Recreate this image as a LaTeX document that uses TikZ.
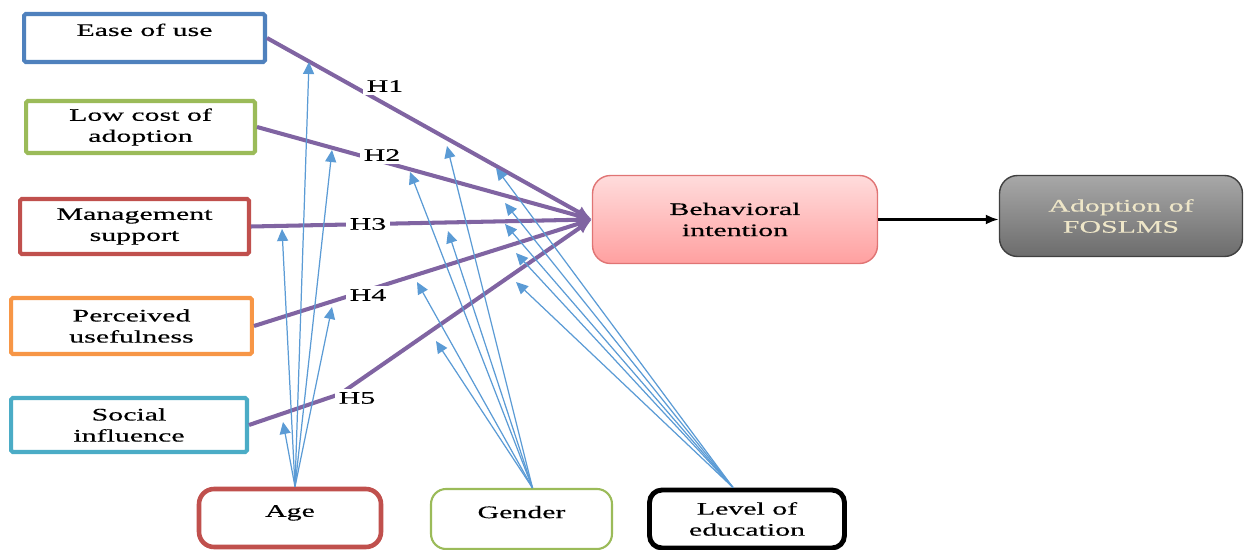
\documentclass[tikz,border=0pt]{standalone}
\usepackage{fontspec}
\setmainfont{Liberation Serif}[FakeStretch=1.7,FakeBold=0.4]
\usetikzlibrary{positioning}
\usetikzlibrary{arrows.meta}
\definecolor{cblue}{HTML}{4F81BD}
\definecolor{cgreen}{HTML}{9BBB59}
\definecolor{cred}{HTML}{C0504D}
\definecolor{corange}{HTML}{F79646}
\definecolor{cteal}{HTML}{4BACC6}
\definecolor{cpurple}{HTML}{8064A2}
\definecolor{carrow}{HTML}{5B9BD5}
\definecolor{pinkedge}{HTML}{E07474}
\definecolor{pinktop}{HTML}{FFDCDC}
\definecolor{pinkbot}{HTML}{FFA0A0}
\definecolor{greyedge}{HTML}{404040}
\definecolor{greytop}{HTML}{A8A8A8}
\definecolor{greybot}{HTML}{6C6C6C}
\definecolor{creamtext}{HTML}{EEE6C8}
\tikzset{
    factor/.style = {rectangle, line width=2.3pt, rounded corners=1pt, fill=white, align=center, font=\fontsize{10}{12}\selectfont},
    moderator/.style = {rectangle, rounded corners=0.3cm, fill=white, align=center, font=\fontsize{10}{12}\selectfont},
    outcome/.style = {rectangle, rounded corners=0.36cm, align=center, font=\fontsize{10}{12}\selectfont},
    hyp/.style = {fill=white, inner sep=2pt, font=\fontsize{10}{12}\selectfont},
    edgep/.style = {-{Latex[length=0.3cm,width=0.26cm]}, line width=2.3pt, cpurple},
    edgepn/.style = {line width=2.3pt, cpurple},
    edgeb/.style = {-{Triangle[length=0.24cm,width=0.22cm]}, line width=0.7pt, carrow},
    edgek/.style = {-{Latex[length=0.26cm,width=0.2cm]}, line width=1.7pt, black}
}
\begin{document}
\begin{tikzpicture}[x=0.02cm,y=-0.02cm]
\useasboundingbox (0,0) rectangle (1244,550);
%
\node[factor, draw=cblue, minimum width=4.82cm, minimum height=0.96cm, text depth=0.33cm] at (144.5,38) (ease) {Ease of use};
\node[factor, draw=cgreen, minimum width=4.58cm, minimum height=1.04cm] at (140.5,127) (cost) {Low cost of\\adoption};
\node[factor, draw=cred, minimum width=4.58cm, minimum height=1.10cm] at (134.5,226.5) (mgmt) {Management\\support};
\node[factor, draw=corange, minimum width=4.82cm, minimum height=1.12cm] at (131.5,326) (useful) {Perceived\\usefulness};
\node[factor, draw=cteal, minimum width=4.72cm, minimum height=1.08cm] at (129,425) (social) {Social\\influence};
%
\node[outcome, draw=pinkedge, line width=0.8pt, top color=pinktop, bottom color=pinkbot, minimum width=5.70cm, minimum height=1.76cm] at (735,219.5) (bi) {Behavioral\\intention};
\node[outcome, draw=greyedge, line width=0.8pt, top color=greytop, bottom color=greybot, text=creamtext, minimum width=4.86cm, minimum height=1.62cm] at (1121,216) (adopt) {Adoption of\\FOSLMS};
%
\node[moderator, draw=cred, line width=2.6pt, minimum width=3.64cm, minimum height=1.16cm, text depth=0.28cm] at (290,518) (age) {Age};
\node[moderator, draw=cgreen, line width=1.2pt, minimum width=3.62cm, minimum height=1.2cm, text depth=0.28cm] at (521.5,519) (gender) {Gender};
\node[moderator, draw=black, line width=2.8pt, rounded corners=0.25cm, minimum width=3.9cm, minimum height=1.16cm] at (747,519) (edu) {Level of\\education};
%
\coordinate (k5) at (340,394);
\coordinate (a1) at (309,62);
\coordinate (a2) at (332,150);
\coordinate (a3) at (282,229);
\coordinate (a4) at (332,307);
\coordinate (a5) at (283,422);
\coordinate (g1) at (447,146);
\coordinate (g2) at (410,172);
\coordinate (g3) at (448,231);
\coordinate (g4) at (417,282);
\coordinate (g5) at (436,341);
\coordinate (l1) at (496,168);
\coordinate (l2) at (505,203);
\coordinate (l3) at (505,224);
\coordinate (l4) at (516,253);
\coordinate (l5) at (516,282);
%
\draw[edgep] (ease.east) -- (bi.west);
\draw[edgep] (cost.east) -- (bi.west);
\draw[edgep] (mgmt.east) -- (bi.west);
\draw[edgep] (useful.east) -- (bi.west);
\draw[edgepn] (social.east) -- (k5);
\draw[edgep] (k5) -- (bi.west);
\draw[edgek] (bi.east) -- (bi.east -| adopt.west);
%
\draw[edgeb] ([xshift=0.1cm]age.north) -- (a1);
\draw[edgeb] ([xshift=0.1cm]age.north) -- (a2);
\draw[edgeb] ([xshift=0.1cm]age.north) -- (a3);
\draw[edgeb] ([xshift=0.1cm]age.north) -- (a4);
\draw[edgeb] ([xshift=0.1cm]age.north) -- (a5);
\draw[edgeb] ([xshift=0.22cm]gender.north) -- (g1);
\draw[edgeb] ([xshift=0.22cm]gender.north) -- (g2);
\draw[edgeb] ([xshift=0.22cm]gender.north) -- (g3);
\draw[edgeb] ([xshift=0.22cm]gender.north) -- (g4);
\draw[edgeb] ([xshift=0.22cm]gender.north) -- (g5);
\draw[edgeb] ([xshift=-0.28cm]edu.north) -- (l1);
\draw[edgeb] ([xshift=-0.28cm]edu.north) -- (l2);
\draw[edgeb] ([xshift=-0.28cm]edu.north) -- (l3);
\draw[edgeb] ([xshift=-0.28cm]edu.north) -- (l4);
\draw[edgeb] ([xshift=-0.28cm]edu.north) -- (l5);
%
\node[hyp] at (385,86) (h1) {H1};
\node[hyp] at (382,155) (h2) {H2};
\node[hyp] at (368,224) (h3) {H3};
\node[hyp] at (368,295) (h4) {H4};
\node[hyp] at (357,398) (h5) {H5};
\end{tikzpicture}
\end{document}
